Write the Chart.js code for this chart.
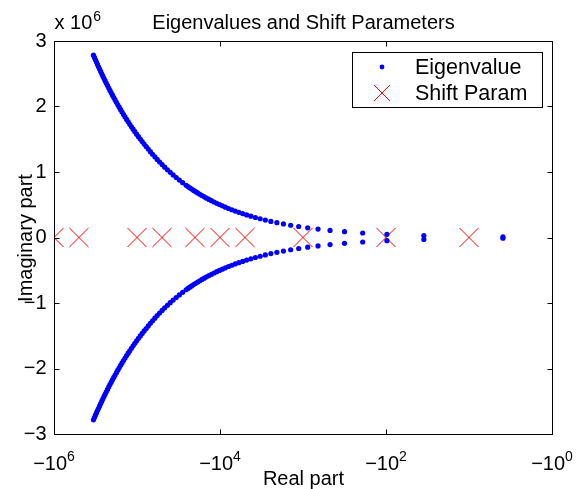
<!DOCTYPE html>
<html>
<head>
<meta charset="utf-8">
<title>Eigenvalues and Shift Parameters</title>
<script src="https://cdn.jsdelivr.net/npm/chart.js@4.4.1/dist/chart.umd.min.js"></script>
<style>
  html, body { margin: 0; padding: 0; background: #fff; }
  canvas { display: block; }
</style>
</head>
<body>
<canvas id="eigChart" width="581" height="489"></canvas>
<script>
// Eigenvalues in the upper half plane (real part, imaginary part in units of 10^6).
// The lower half is the complex conjugate of each one.
const eigReal = [
    -3.9, -35, -97.5, -191, -316, -472, -659, -878, -1127, -1408,
    -1720, -2063, -2438, -2843, -3280, -3748, -4247, -4778, -5339, -5932,
    -6556, -7211, -7898, -8615, -9364, -10144, -10955, -11798, -12671, -13576,
    -14512, -15479, -16478, -17507, -18568, -19660, -20783, -21938, -23123, -24340,
    -25588,
    -28178, -30892, -33731, -36695, -39784, -42998, -46336, -49799, -53387, -57100,
    -60938, -64900, -68987, -73199, -77536, -81998, -86584, -91295, -96131, -101092,
    -106178, -111388, -116723, -122183, -127768, -133478, -139312, -145271, -151355, -157564,
    -163898, -170356, -176939, -183647, -190480, -197438, -204520, -211727, -219059, -226516,
    -234098, -241804, -249635, -257591, -265672, -273878, -282208, -290663, -299243, -307948,
    -316778, -325732, -334811
];
const eigImag = [
    0.010, 0.030, 0.049, 0.069, 0.089, 0.108, 0.128, 0.148, 0.168, 0.187,
    0.207, 0.227, 0.246, 0.266, 0.286, 0.305, 0.325, 0.345, 0.365, 0.384,
    0.404, 0.424, 0.443, 0.463, 0.483, 0.502, 0.522, 0.542, 0.562, 0.581,
    0.601, 0.621, 0.640, 0.660, 0.680, 0.699, 0.719, 0.739, 0.759, 0.778,
    0.798,
    0.837, 0.877, 0.916, 0.956, 0.995, 1.034, 1.074, 1.113, 1.153, 1.192,
    1.231, 1.271, 1.310, 1.350, 1.389, 1.427, 1.465, 1.503, 1.540, 1.578,
    1.616, 1.654, 1.691, 1.729, 1.766, 1.803, 1.841, 1.878, 1.915, 1.952,
    1.989, 2.026, 2.063, 2.100, 2.136, 2.173, 2.209, 2.246, 2.282, 2.319,
    2.355, 2.391, 2.427, 2.463, 2.499, 2.535, 2.571, 2.607, 2.642, 2.678,
    2.713, 2.749, 2.784
];

// Shift parameters (all real)
const shiftParams = [-1e6, -5e5, -1e5, -5e4, -2e4, -1e4, -5e3, -1e3, -1e2, -1e1];

// axis ticks
const xTickExps = [6, 4, 2, 0];
const yTicks = [3, 2, 1, 0, -1, -2, -3];

const FONT = '"Liberation Sans", Arial, Helvetica, sans-serif';
const MINUS = '\u2212';

// the x axis is log(-Re), drawn right to left
const eigPoints = eigReal.map((re, i) => ({ x: -re, y: eigImag[i] }))
    .concat(eigReal.map((re, i) => ({ x: -re, y: -eigImag[i] })));
const shiftPoints = shiftParams.map(s => ({ x: -s, y: 0 }));

// Matlab style box, inward ticks, labels and legend
const matlabAxes = {
    id: 'matlabAxes',
    afterDraw(chart) {
        const ctx = chart.ctx;
        const area = chart.chartArea;
        const xs = chart.scales.x;
        const ys = chart.scales.y;
        const L = Math.round(area.left) + 0.5, R = Math.round(area.right) + 0.5;
        const T = Math.round(area.top) + 0.5, B = Math.round(area.bottom) + 0.5;
        const tick = 5;

        ctx.save();
        ctx.strokeStyle = '#000';
        ctx.lineWidth = 1;
        ctx.strokeRect(L, T, R - L, B - T);

        ctx.beginPath();
        xTickExps.forEach(e => {
            const px = Math.round(xs.getPixelForValue(Math.pow(10, e))) + 0.5;
            ctx.moveTo(px, B); ctx.lineTo(px, B - tick);
            ctx.moveTo(px, T); ctx.lineTo(px, T + tick);
        });
        yTicks.forEach(v => {
            const py = Math.round(ys.getPixelForValue(v)) + 0.5;
            ctx.moveTo(L, py); ctx.lineTo(L + tick, py);
            ctx.moveTo(R, py); ctx.lineTo(R - tick, py);
        });
        ctx.stroke();

        ctx.fillStyle = '#000';

        // y tick labels
        ctx.font = '20px ' + FONT;
        ctx.textAlign = 'right';
        ctx.textBaseline = 'middle';
        yTicks.forEach(v => {
            const label = v < 0 ? MINUS + Math.abs(v) : String(v);
            ctx.fillText(label, L - 8, ys.getPixelForValue(v));
        });

        // x tick labels  -10^n
        ctx.textBaseline = 'alphabetic';
        ctx.textAlign = 'left';
        xTickExps.forEach(e => {
            const px = xs.getPixelForValue(Math.pow(10, e));
            ctx.font = '20px ' + FONT;
            const w1 = ctx.measureText(MINUS + '10').width;
            ctx.font = '14px ' + FONT;
            const w2 = ctx.measureText(String(e)).width;
            const x0 = px - (w1 + w2) / 2;
            ctx.font = '20px ' + FONT;
            ctx.fillText(MINUS + '10', x0, B + 35);
            ctx.font = '14px ' + FONT;
            ctx.fillText(String(e), x0 + w1, B + 26);
        });

        // multiplier  x 10^6
        ctx.font = '20px ' + FONT;
        ctx.fillText('x 10', L, T - 13);
        const wm = ctx.measureText('x 10').width;
        ctx.font = '14px ' + FONT;
        ctx.fillText('6', L + wm + 1, T - 21);

        // title and axis labels
        ctx.font = '20px ' + FONT;
        ctx.textAlign = 'center';
        ctx.fillText('Eigenvalues and Shift Parameters', (L + R) / 2, T - 13);
        ctx.fillText('Real part', (L + R) / 2, B + 50);
        ctx.save();
        ctx.translate(32, (T + B) / 2);
        ctx.rotate(-Math.PI / 2);
        ctx.fillText('Imaginary part', 0, 0);
        ctx.restore();

        // legend box
        const lx = 352.5, ly = 52.5, lw = 190, lh = 55;
        ctx.fillStyle = '#fff';
        ctx.fillRect(lx, ly, lw, lh);
        ctx.strokeRect(lx, ly, lw, lh);

        ctx.fillStyle = '#0000ff';
        ctx.beginPath();
        ctx.arc(382, 67, 2.4, 0, Math.PI * 2);
        ctx.fill();

        ctx.strokeStyle = '#ff0000';
        ctx.beginPath();
        ctx.moveTo(374, 85); ctx.lineTo(390, 101);
        ctx.moveTo(390, 85); ctx.lineTo(374, 101);
        ctx.stroke();

        ctx.fillStyle = '#000';
        ctx.textAlign = 'left';
        ctx.textBaseline = 'middle';
        ctx.font = '21.5px ' + FONT;
        ctx.fillText('Eigenvalue', 415, 68);
        ctx.fillText('Shift Param', 415, 94);
        ctx.restore();
    }
};

new Chart(document.getElementById('eigChart'), {
    type: 'scatter',
    data: {
        datasets: [{
            label: 'Eigenvalue',
            data: eigPoints,
            pointStyle: 'circle',
            pointRadius: 2.6,
            pointBackgroundColor: '#0000ff',
            pointBorderWidth: 0,
            showLine: false
        }, {
            label: 'Shift Param',
            data: shiftPoints,
            pointStyle: 'crossRot',
            pointRadius: 13.5,
            pointBorderColor: '#ff0000',
            pointBorderWidth: 1,
            showLine: false
        }]
    },
    options: {
        responsive: false,
        animation: false,
        layout: { padding: { left: 54, right: 29, top: 41, bottom: 55 } },
        plugins: {
            legend: { display: false },
            tooltip: { enabled: false }
        },
        scales: {
            x: {
                type: 'logarithmic',
                reverse: true,
                min: 1,
                max: 1e6,
                grid: { display: false, drawTicks: false },
                border: { display: false },
                ticks: { display: false }
            },
            y: {
                type: 'linear',
                min: -3,
                max: 3,
                grid: { display: false, drawTicks: false },
                border: { display: false },
                ticks: { display: false }
            }
        }
    },
    plugins: [matlabAxes]
});
</script>
</body>
</html>
